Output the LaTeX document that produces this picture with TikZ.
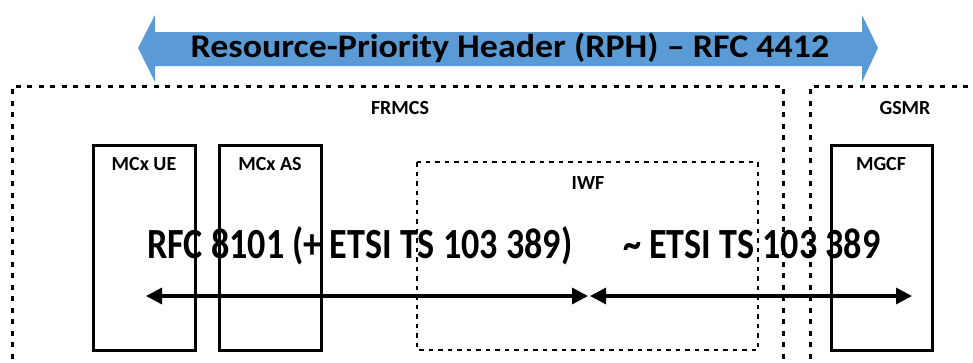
\documentclass[tikz,border=0pt]{standalone}
\usepackage{fontspec}
\setmainfont{Carlito}
\usetikzlibrary{arrows.meta}
\definecolor{rphblue}{HTML}{5B9BD5}
\tikzset{
  zone/.style={draw=black, line width=3pt, dash pattern=on 5pt off 6.5pt},
  inner zone/.style={draw=black, line width=2.8pt, dash pattern=on 4.5pt off 5pt},
  entity/.style={draw=black, line width=3pt},
  lbl/.style={font=\bfseries\fontsize{20}{20}\selectfont, inner sep=0pt},
  biglbl/.style={font=\bfseries\fontsize{43}{43}\selectfont, inner sep=0pt, xscale=0.84},
  proto/.style={line width=3.2pt, {Triangle[length=16pt,width=16pt]}-{Triangle[length=16pt,width=16pt]}}
}
\begin{document}
\begin{tikzpicture}[x=1pt,y=-1pt]
\useasboundingbox (0,0) rectangle (973,362);
% RPH arrow
\fill[rphblue] (138,48) -- (155,15) -- (155,32) -- (862,32) -- (862,15) -- (878,48) -- (862,82) -- (862,66) -- (155,66) -- (155,82) -- cycle;
\node[font=\bfseries\fontsize{33}{33}\selectfont, inner sep=0pt, xscale=1.09, anchor=base] (rph) at (510,57) {Resource-Priority Header (RPH) – RFC 4412};
% zones
\draw[zone] (12,370) -- (12,86) -- (783,86) -- (783,370);
\draw[zone] (810,370) -- (810,86) -- (980,86);
\node[lbl] (frmcs) at (400,108) {FRMCS};
\node[lbl] (gsmr) at (905,108) {GSMR};
% entities
\draw[entity] (93,145) rectangle (195,350);
\node[lbl] (ue) at (144,164) {MCx UE};
\draw[entity] (219,145) rectangle (321,350);
\node[lbl] (as) at (270,164) {MCx AS};
\draw[inner zone] (417,162) rectangle (758,350);
\node[lbl] (iwf) at (588,183) {IWF};
\draw[entity] (831,145) rectangle (932,350);
\node[lbl] (mgcf) at (881,164) {MGCF};
% protocols
\coordinate (a1) at (146,296);
\coordinate (m1) at (588,296);
\coordinate (m2) at (590,296);
\coordinate (a2) at (912,296);
\draw[proto] (a1) -- (m1);
\draw[proto] (m2) -- (a2);
\node[biglbl, anchor=base west] (p1) at (147,258) {RFC 8101 (+ ETSI TS 103 389)};
\node[biglbl, anchor=base west] (p2) at (623,258) {\char`~\ ETSI TS 103 389};
\end{tikzpicture}
\end{document}
